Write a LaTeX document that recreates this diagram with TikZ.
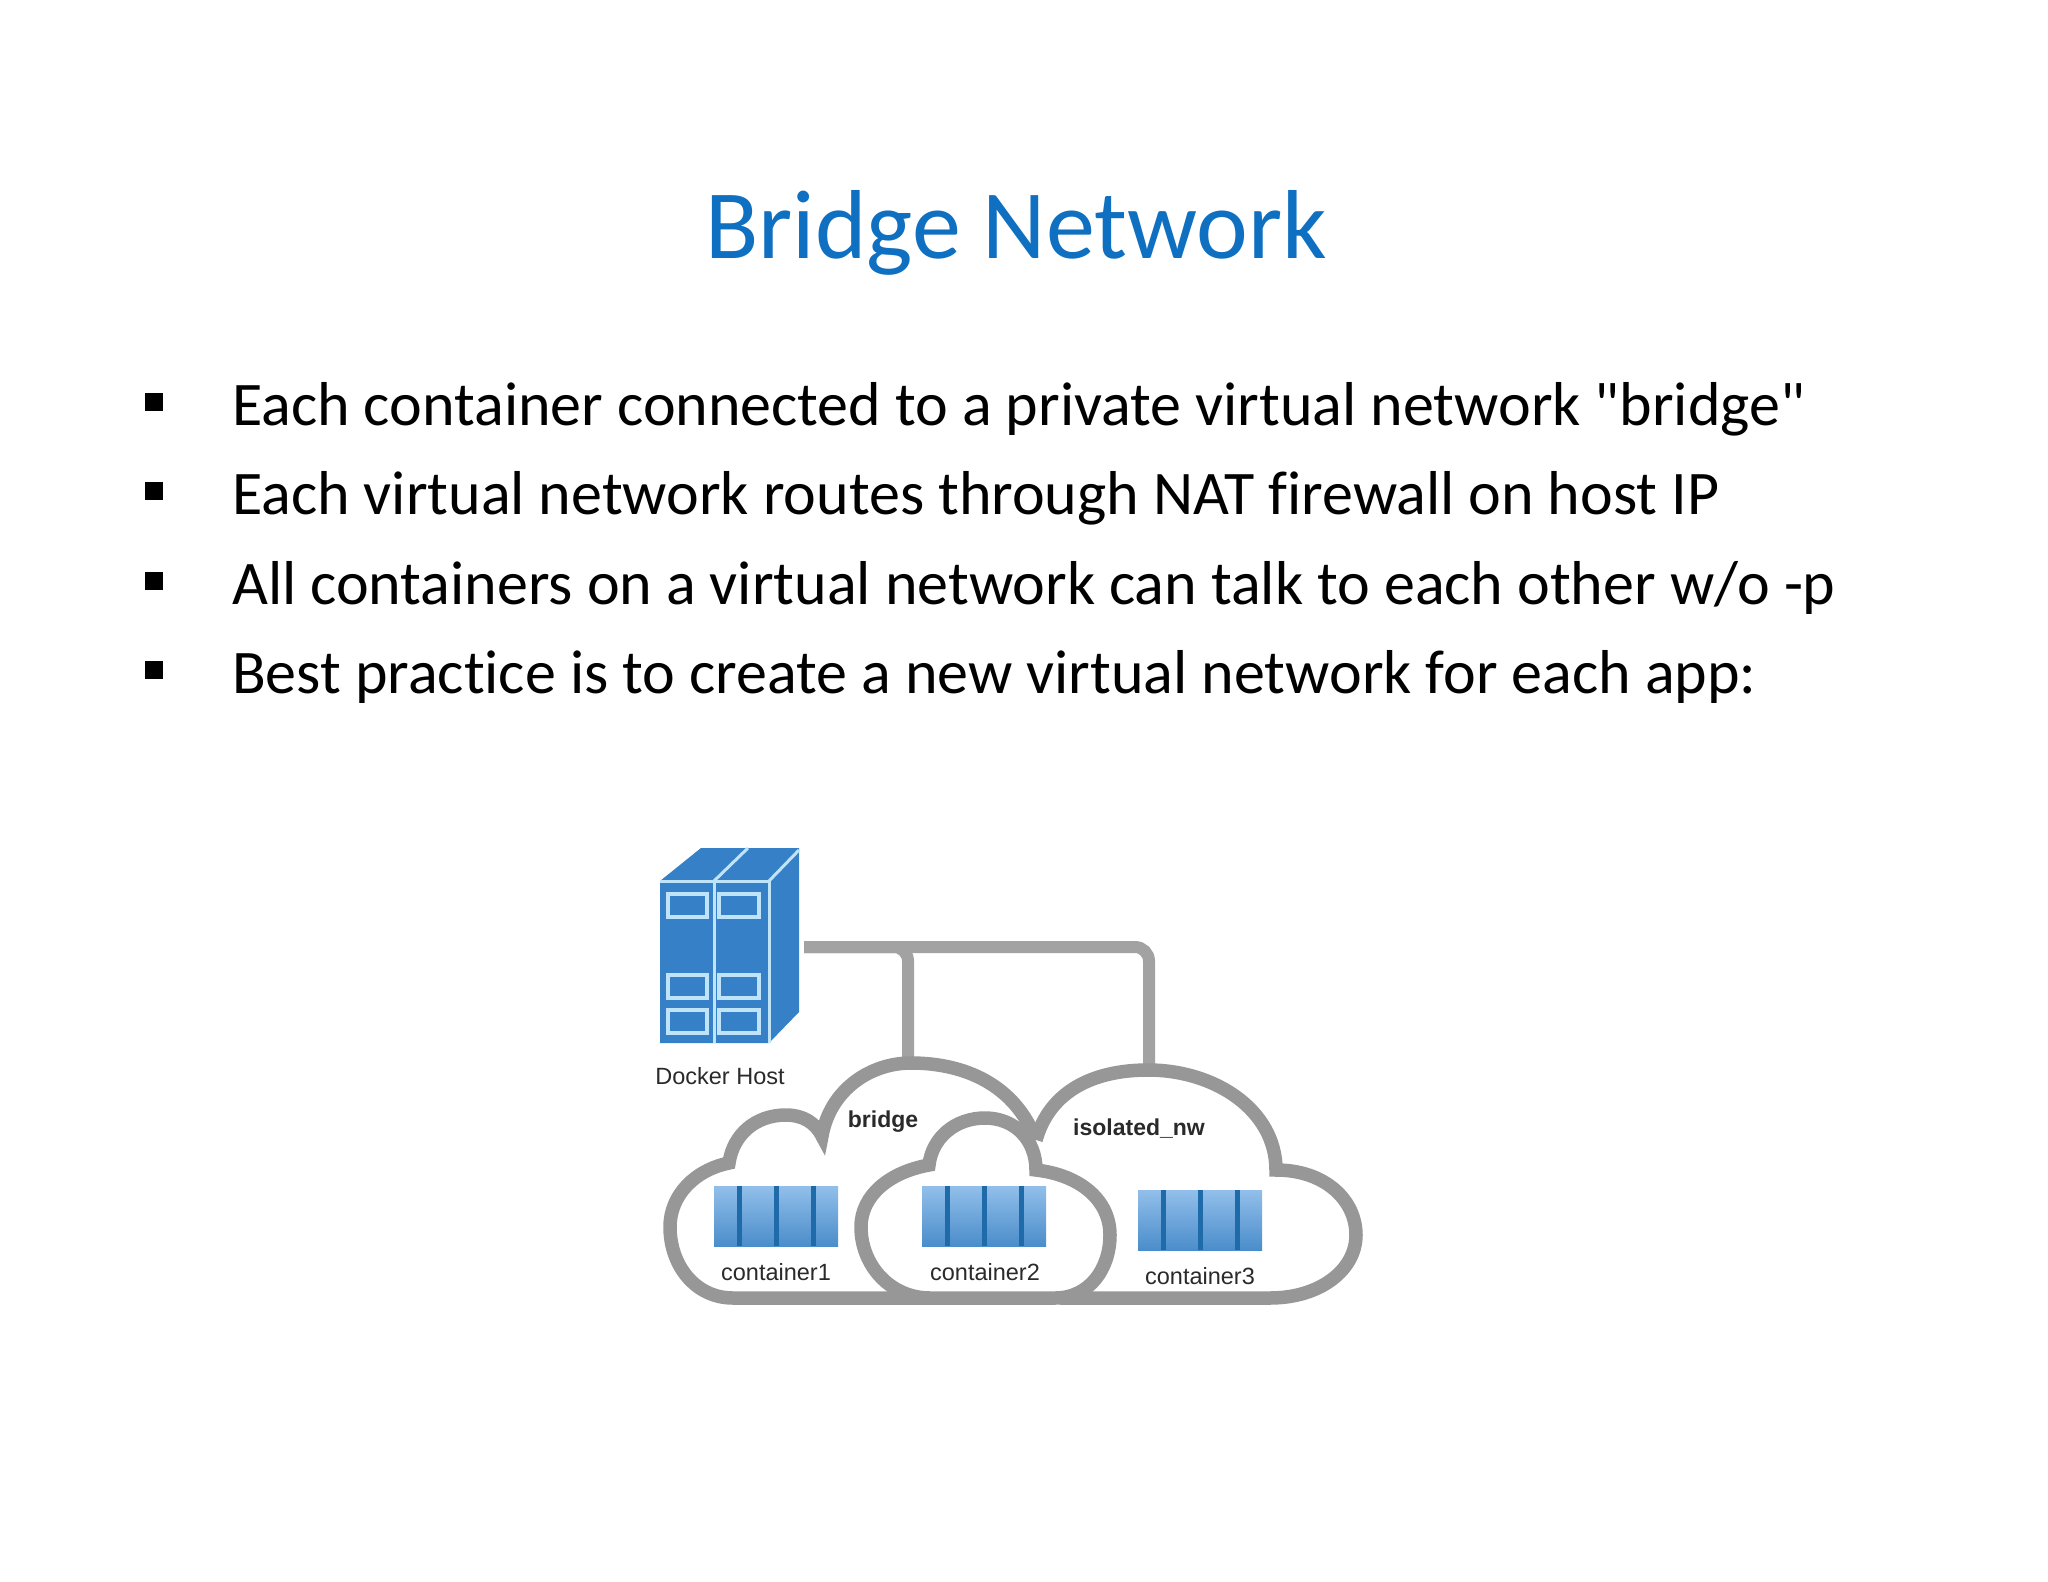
\documentclass[tikz,border=0pt]{standalone}
\usepackage{fontspec}
\newfontfamily\slidefont{Carlito}[Ligatures=NoCommon]
\newfontfamily\labelfont{Liberation Sans}
\definecolor{titleblue}{HTML}{0F6FC0}
\definecolor{serverblue}{HTML}{3580C6}
\definecolor{serverline}{HTML}{BFE3F8}
\definecolor{wire}{HTML}{A2A2A2}
\definecolor{cloudline}{HTML}{979797}
\definecolor{boxtop}{HTML}{92BFEA}
\definecolor{boxbot}{HTML}{4A8DCB}
\definecolor{boxline}{HTML}{1F6AA8}
\definecolor{labelink}{HTML}{2A2A2A}
\tikzset{
  titletext/.style={font=\slidefont\fontsize{98}{110}\selectfont,text=titleblue,anchor=base,inner sep=0},
  bodytext/.style={font=\slidefont\fontsize{62}{70}\selectfont,text=black,anchor=base west,inner sep=0},
  bulletmark/.style={fill=black,minimum size=18,inner sep=0,draw=none},
  wireline/.style={draw=wire,line width=12,rounded corners=14},
  cloudpath/.style={draw=cloudline,line width=13.5,line join=miter,miter limit=6},
  serveredge/.style={draw=serverline,line width=3},
  caption/.style={font=\labelfont\fontsize{23.5}{28}\selectfont,text=labelink,inner sep=0},
  boldcaption/.style={font=\labelfont\bfseries\fontsize{23}{28}\selectfont,text=labelink,inner sep=0},
  ctrbox/.style={minimum width=124,minimum height=60,inner sep=0,top color=boxtop,bottom color=boxbot,draw=none},
  ctrbar/.style={draw=boxline,line width=5},
}
\newcommand{\ctrbars}[1]{%
  \draw[ctrbar] ([xshift=-37pt]#1.north) -- ([xshift=-37pt]#1.south);
  \draw[ctrbar] (#1.north) -- (#1.south);
  \draw[ctrbar] ([xshift=37pt]#1.north) -- ([xshift=37pt]#1.south);
}
\begin{document}
\begin{tikzpicture}[x=1pt,y=-1pt]
\useasboundingbox (0,0) rectangle (2048,1582);
\fill[white] (0,0) rectangle (2048,1582);

\node[titletext] (title) at (1016,258) {Bridge Network};
\node[bulletmark] (b1) at (154,402) {};
\node[bulletmark] (b2) at (154,491) {};
\node[bulletmark] (b3) at (154,581) {};
\node[bulletmark] (b4) at (154,670) {};
\node[bodytext] (t1) at (232,425) {Each container connected to a private virtual network "bridge"};
\node[bodytext] (t2) at (232,514) {Each virtual network routes through NAT firewall on host IP};
\node[bodytext] (t3) at (232,604) {All containers on a virtual network can talk to each other w/o -p};
\node[bodytext] (t4) at (232,693) {Best practice is to create a new virtual network for each app:};

% server
\fill[serverblue] (660,881) -- (701,848) -- (799,848) -- (799,1012) -- (769,1043) -- (660,1043) -- cycle;
\draw[serveredge] (660,881) -- (769,881) -- (769,1043);
\draw[serveredge] (714,881) -- (714,1043);
\draw[serveredge] (714,881) -- (748,848);
\draw[serveredge] (769,881) -- (799,850);
\foreach \y in {894,975,1010}{
  \draw[serveredge,line width=3.5] (668,\y) rectangle (707,\y+23);
  \draw[serveredge,line width=3.5] (719,\y) rectangle (759,\y+23);
}
\node[caption] (hostlabel) at (720,1076) {Docker Host};

% wires
\coordinate (hostport) at (804,947);
\coordinate (bridgetop) at (908,1062);
\coordinate (isotop) at (1149,1070);
\draw[wireline] (hostport) -- (hostport -| isotop) -- (isotop);
\draw[wireline] (hostport) -- (hostport -| bridgetop) -- (bridgetop);

% clouds
\draw[cloudpath] (930,1298) -- (733,1298) .. controls (695,1298) and (670,1265) .. (670,1227)
  .. controls (670,1195) and (695,1170) .. (729,1163)
  .. controls (733,1135) and (755,1115) .. (786,1115)
  .. controls (802,1115) and (815,1122) .. (822,1136)
  .. controls (830,1090) and (870,1063) .. (911,1063)
  .. controls (965,1063) and (1015,1085) .. (1036,1140);
\draw[cloudpath] (1036,1140) .. controls (1050,1090) and (1095,1070) .. (1148,1070)
  .. controls (1215,1070) and (1276,1110) .. (1276,1170)
  .. controls (1325,1170) and (1356,1200) .. (1356,1235)
  .. controls (1356,1270) and (1320,1298) .. (1270,1298) -- (1060,1298);
\draw[cloudpath] (930,1298) .. controls (890,1298) and (861,1265) .. (861,1227)
  .. controls (861,1195) and (890,1172) .. (929,1165)
  .. controls (932,1138) and (955,1118) .. (985,1118)
  .. controls (1015,1118) and (1036,1140) .. (1036,1170)
  .. controls (1080,1175) and (1110,1200) .. (1110,1235)
  .. controls (1110,1268) and (1090,1298) .. (1055,1298) -- cycle;

% containers
\node[ctrbox] (c1) at (776,1216) {};
\node[ctrbox] (c2) at (984,1216) {};
\node[ctrbox] (c3) at (1200,1220) {};
\ctrbars{c1}\ctrbars{c2}\ctrbars{c3}
\node[caption] (c1label) at (776,1272) {container1};
\node[caption] (c2label) at (985,1272) {container2};
\node[caption] (c3label) at (1200,1276) {container3};
\node[boldcaption] (bridgelabel) at (883,1122) {bridge};
\node[boldcaption] (isolabel) at (1139,1129) {isolated\_nw};
\end{tikzpicture}
\end{document}
